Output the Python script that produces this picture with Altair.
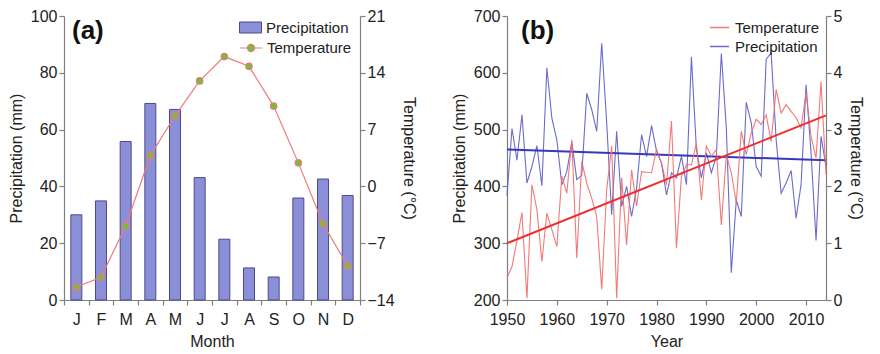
import altair as alt
import pandas as pd

# ---------- Panel (a): monthly climatology ----------
months = ["J", "F", "M", "A", "M ", "J ", "J  ", "A ", "S", "O", "N", "D"]
month_labels = ["J", "F", "M", "A", "M", "J", "J", "A", "S", "O", "N", "D"]
precip_month = [30.0, 34.9, 55.8, 69.2, 67.1, 43.1, 21.4, 11.3, 8.1, 35.9, 42.6, 36.8]
temp_month = [-12.4, -11.2, -4.9, 3.8, 8.7, 13.0, 16.0, 14.8, 9.9, 2.9, -4.6, -9.8]

# ---------- Panel (b): annual series 1950-2014 ----------
years = list(range(1950, 2015))
precip_year = [384, 502, 446, 526, 406, 435, 472, 401, 609, 520,
               482, 403, 426, 478, 412, 420, 564, 535, 497, 652,
               512, 350, 497, 365, 400, 347, 397, 491, 453, 507,
               462, 441, 385, 424, 415, 453, 403, 628, 465, 415,
               459, 424, 453, 634, 503, 248, 376, 347, 548, 512,
               435, 418, 624, 635, 482, 388, 406, 428, 344, 403,
               579, 459, 305, 488, 435]
temp_year = [0.39, 0.59, 1.05, 1.54, 0.03, 2.03, 1.59, 0.68, 1.53, 1.24,
             0.94, 2.18, 1.88, 2.82, 0.74, 2.44, 2.06, 1.79, 1.47, 0.19,
             1.94, 2.71, 0.03, 2.15, 0.97, 2.29, 1.65, 2.26, 2.25, 2.24,
             2.65, 2.41, 2.03, 3.15, 0.91, 2.18, 2.38, 2.38, 2.76, 1.76,
             2.71, 2.53, 2.65, 1.32, 2.56, 2.24, 1.71, 2.97, 2.56, 2.94,
             3.18, 3.09, 3.26, 2.79, 3.71, 3.29, 3.44, 3.32, 3.21, 3.03,
             3.65, 2.88, 2.50, 3.84, 2.21]
trend_years = [1950, 2014]
temp_trend = [1.0, 3.25]
precip_trend = [465, 446]

FONT = "Liberation Sans"
AX = "#808080"
TXT = "#222222"

bar_fill = "#8b8fd8"
bar_stroke = "#4c4c8c"
tline = "#f07a7a"
tpoint = "#6cc23a"

df_a = pd.DataFrame({
    "month": months,
    "label": month_labels,
    "precip": precip_month,
    "temp": temp_month,
    "pkey": ["Precipitation"] * 12,
    "tkey": ["Temperature"] * 12,
})

label_expr = "{'J':'J','F':'F','M':'M','A':'A','M ':'M','J ':'J','J  ':'J','A ':'A','S':'S','O':'O','N':'N','D':'D'}[datum.value]"

def yaxis(values, orient="left"):
    return alt.Axis(orient=orient, values=values, grid=False, labelOverlap=False,
                    labelFlush=False,
                    labelFontSize=16, titleFontSize=16, labelColor=TXT, format="d",
                    titleColor=TXT, domainColor=AX, tickColor=AX,
                    titlePadding=6, titleFontWeight="normal")

xa = alt.X("month:N", sort=months, title="Month",
           scale=alt.Scale(paddingInner=0, paddingOuter=0),
           axis=alt.Axis(labelAngle=0, tickBand="extent", labelExpr=label_expr,
                         labelFontSize=16, titleFontSize=16, labelColor=TXT,
                         titleColor=TXT, domainColor=AX, tickColor=AX,
                         titlePadding=6, labelPadding=6, titleFontWeight="normal"))

rect_path = "M-1,-0.5H1V0.5H-1Z"
linept_path = "M-1,0H-0.33M0.33,0H1M-0.33,0A0.33,0.33 0 1,0 0.33,0A0.33,0.33 0 1,0 -0.33,0Z"

bars = alt.Chart(df_a).mark_bar(size=11, stroke=bar_stroke, strokeWidth=1).encode(
    x=xa,
    y=alt.Y("precip:Q", title="Precipitation (mm)",
            scale=alt.Scale(domain=[0, 100], nice=False),
            axis=yaxis([0, 20, 40, 60, 80, 100])),
    fill=alt.Fill("pkey:N", scale=alt.Scale(domain=["Precipitation"], range=[bar_fill]),
                  legend=alt.Legend(title=None, orient="none", legendX=175, legendY=0,
                                    symbolType=rect_path, symbolSize=484,
                                    symbolFillColor=bar_fill, symbolStrokeColor=bar_stroke,
                                    symbolStrokeWidth=1, labelFontSize=15, labelFont=FONT,
                                    labelColor=TXT, padding=0, labelOffset=4)),
)

tline_chart = alt.Chart(df_a).mark_line(
    strokeWidth=1.2,
    point=alt.OverlayMarkDef(filled=True, fill=tpoint, stroke="#f0703a", strokeWidth=1.2, size=42),
).encode(
    x=alt.X("month:N", sort=months),
    y=alt.Y("temp:Q", title="Temperature (°C)",
            scale=alt.Scale(domain=[-14, 21], nice=False),
            axis=yaxis([-14, -7, 0, 7, 14, 21], "right")),
    stroke=alt.Stroke("tkey:N", scale=alt.Scale(domain=["Temperature"], range=[tline]),
                      legend=alt.Legend(title=None, orient="none", legendX=175, legendY=20,
                                        symbolType=linept_path, symbolSize=484,
                                        symbolFillColor=tpoint, symbolStrokeColor=tline,
                                        symbolStrokeWidth=1.2, labelFontSize=15, labelFont=FONT,
                                        labelColor=TXT, padding=0, labelOffset=4)),
)

panel_a = alt.layer(bars, tline_chart).resolve_scale(y="independent").properties(
    width=296, height=284,
    title=alt.TitleParams("(a)", anchor="start", fontSize=26, fontWeight="bold",
                          font=FONT, color="#111111", frame="group", dx=8, dy=2, offset=-34),
)

# ---------- Panel (b) ----------
df_b = pd.DataFrame({"year": years, "precip": precip_year, "temp": temp_year})
df_tr = pd.DataFrame({"year": trend_years, "temp": temp_trend, "precip": precip_trend})

xb = alt.X("year:Q", title="Year",
           scale=alt.Scale(domain=[1950, 2014], nice=False, zero=False),
           axis=alt.Axis(values=[1950, 1960, 1970, 1980, 1990, 2000, 2010], format="d",
                         grid=False, labelOverlap=False, labelFlush=False,
                         labelFontSize=16, titleFontSize=16,
                         labelColor=TXT, titleColor=TXT, domainColor=AX, tickColor=AX,
                         titlePadding=6, labelPadding=6, titleFontWeight="normal"))

color_scale = alt.Scale(domain=["Temperature", "Precipitation"], range=["#f26a6a", "#5b5bc6"])
leg_b = alt.Legend(title=None, orient="none", legendX=202, legendY=1,
                   symbolType="stroke", symbolSize=361, symbolStrokeWidth=1.5,
                   labelFontSize=15, labelFont=FONT, labelColor=TXT, padding=0,
                   labelOffset=5, rowPadding=-2)

p_line = alt.Chart(df_b).mark_line(strokeWidth=1.1, opacity=0.9).encode(
    x=xb,
    y=alt.Y("precip:Q", title="Precipitation (mm)",
            scale=alt.Scale(domain=[200, 700], nice=False, zero=False),
            axis=yaxis([200, 300, 400, 500, 600, 700])),
    stroke=alt.Stroke("ser:N", scale=color_scale, legend=leg_b),
).transform_calculate(ser="'Precipitation'")
p_trend = alt.Chart(df_tr).mark_line(strokeWidth=2, color="#3838b8").encode(
    x=alt.X("year:Q"), y=alt.Y("precip:Q"),
)
t_line = alt.Chart(df_b).mark_line(strokeWidth=1.1, opacity=0.9).encode(
    x=alt.X("year:Q"),
    y=alt.Y("temp:Q", title="Temperature (°C)",
            scale=alt.Scale(domain=[0, 5], nice=False, zero=False),
            axis=yaxis([0, 1, 2, 3, 4, 5], "right")),
    stroke=alt.Stroke("ser:N", scale=color_scale, legend=leg_b),
).transform_calculate(ser="'Temperature'")
t_trend = alt.Chart(df_tr).mark_line(strokeWidth=2, color="#ec2e2e").encode(
    x=alt.X("year:Q"), y=alt.Y("temp:Q"),
)

left_b = alt.layer(p_line, p_trend)
right_b = alt.layer(t_line, t_trend)
panel_b = alt.layer(left_b, right_b).resolve_scale(y="independent").properties(
    width=319, height=284,
    title=alt.TitleParams("(b)", anchor="start", fontSize=26, fontWeight="bold",
                          font=FONT, color="#111111", frame="group", dx=14, dy=2, offset=-34),
)

chart = alt.hconcat(panel_a, panel_b, spacing=34).resolve_scale(
    stroke="independent", fill="independent"
).resolve_legend(stroke="independent", fill="independent").configure(
    font=FONT,
    padding={"left": 0, "top": 0, "right": 0, "bottom": 0},
).configure_view(stroke=None).configure_axis(
    labelFont=FONT, titleFont=FONT, tickSize=5, domainWidth=1.2, tickWidth=1.2,
)

chart.save("out.html", embed_options={"renderer": "svg", "actions": False})
